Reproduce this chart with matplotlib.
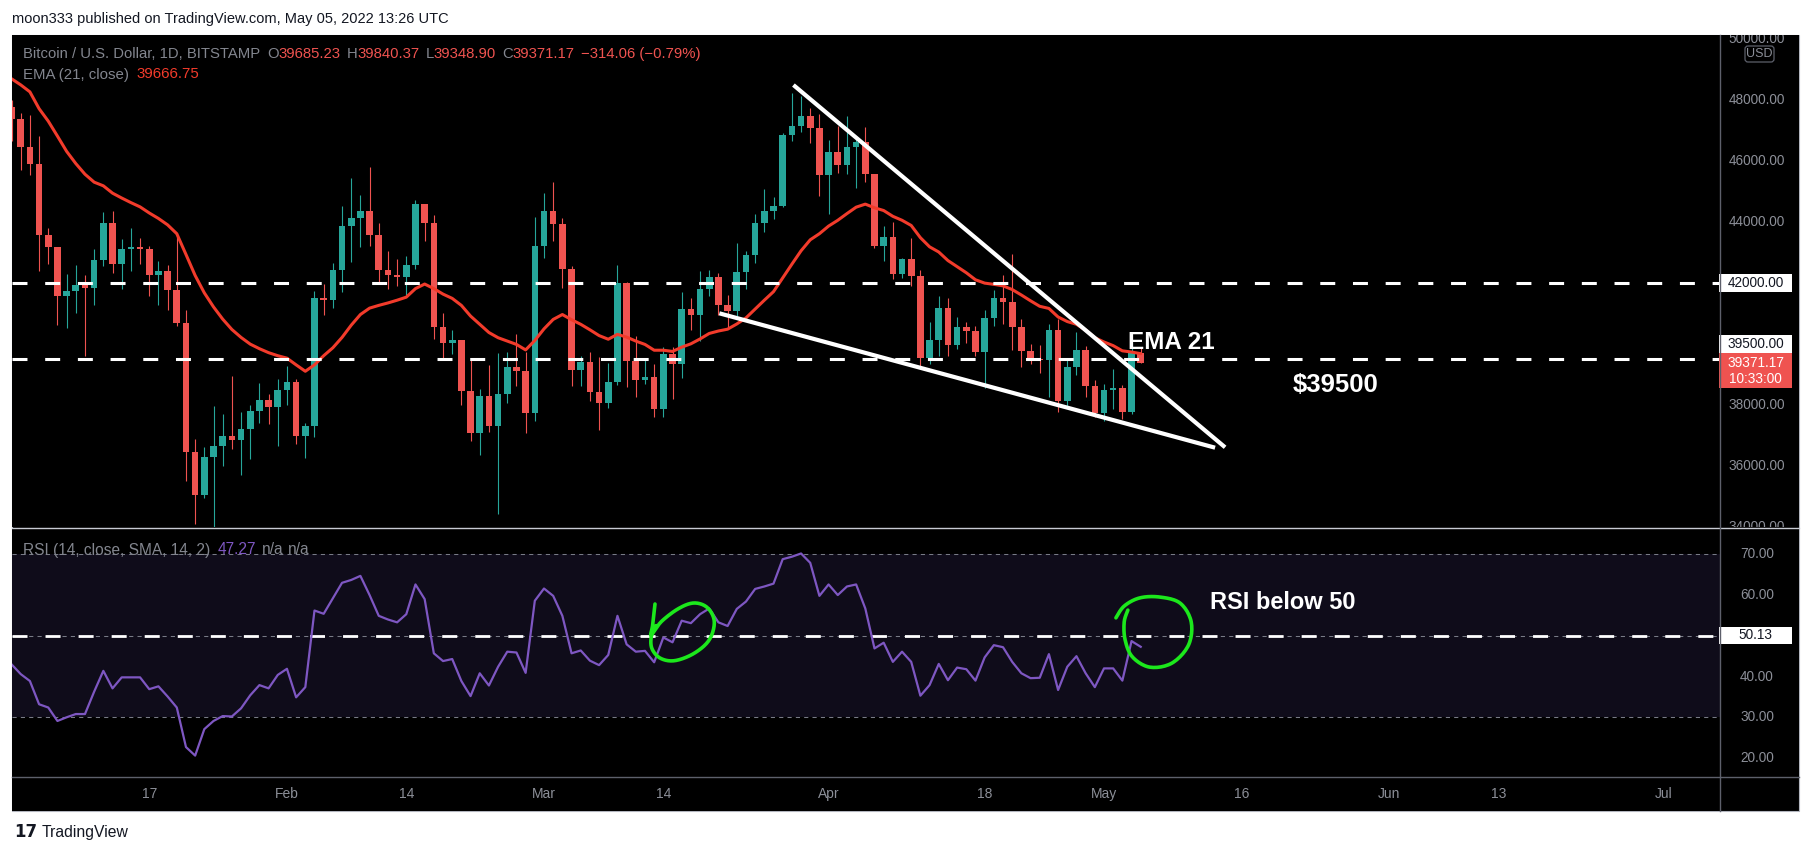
import matplotlib
matplotlib.use("Agg")
import matplotlib.pyplot as plt
import matplotlib.dates as mdates
from matplotlib.patches import Rectangle, FancyBboxPatch
from matplotlib.transforms import blended_transform_factory
import numpy as np
import pandas as pd

plt.rcParams['font.family'] = ['Liberation Sans', 'DejaVu Sans']

W, H = 1813, 856

# ---- data: BTC/USD daily, Bitstamp, 2022-01-02 .. 2022-05-05 ----
dates = pd.date_range('2022-01-02', '2022-05-05', freq='D')

opens = [47738, 47345, 46458, 45897, 43569, 43160, 41557, 41733, 41911, 41821,
         42735, 43949, 42591, 43099, 43177, 43113, 42250, 42375, 41744, 40680,
         36457, 35030, 36276, 36654, 36954, 36852, 37200, 37784, 38138, 37917,
         38483, 38743, 36952, 37300, 41500, 41441, 42406, 43840, 44118, 44338,
         43565, 42407, 42244, 42197, 42586, 44575, 43961, 40538, 40030, 40122,
         38431, 37075, 38286, 37296, 38332, 39214, 39105, 37709, 43193, 44354,
         43924, 42451, 39137, 39400, 38419, 38062, 38737, 41982, 39437, 38794,
         38904, 37849, 39666, 39338, 41143, 40951, 41801, 42190, 41247, 41077,
         42358, 42892, 43960, 44348, 44500, 46820, 47128, 47465, 47062, 45538,
         46281, 45868, 46453, 46622, 45555, 43206, 43503, 42287, 42782, 42207,
         39521, 40127, 41166, 39935, 40552, 40424, 39716, 40827, 41502, 41374,
         40527, 39740, 39478, 39469, 40458, 38120, 39241, 39773, 38609, 37714,
         38469, 38529, 37750, 39685.23]
highs = [47990, 47570, 47500, 46800, 43780, 43160, 42290, 42570, 42230, 43100,
         44300, 44350, 43440, 43790, 43470, 43190, 42690, 42580, 43550, 41100,
         36860, 36600, 37950, 37700, 38950, 37770, 38000, 38700, 38350, 38850,
         39250, 38850, 37400, 41720, 41950, 42650, 44520, 45440, 44860, 45800,
         43940, 43030, 42770, 42870, 44700, 44580, 44200, 40990, 40450, 40115,
         39500, 38500, 39280, 39700, 39710, 40300, 39730, 44150, 44930, 45300,
         44125, 42550, 39600, 39710, 39570, 39370, 42580, 42030, 40250, 39460,
         39320, 39900, 39880, 41680, 41480, 42380, 42410, 42320, 41590, 43300,
         43030, 44240, 45070, 44790, 46910, 48200, 48100, 47710, 47540, 46670,
         47120, 47460, 46770, 47110, 45560, 43850, 43970, 42790, 43450, 42410,
         40700, 41560, 41480, 40860, 40700, 40580, 41100, 41750, 42240, 42950,
         40800, 39970, 39950, 40650, 40790, 39510, 40370, 39930, 38800, 38670,
         39170, 38640, 40030, 39840.37]
lows = [46654, 45697, 45516, 42390, 42600, 40600, 40520, 41000, 39580, 41268,
        42528, 42311, 41800, 42370, 42600, 41550, 41250, 41100, 40580, 35480,
        34080, 34930, 32950, 35990, 36530, 35700, 36200, 37400, 37370, 36630,
        38000, 36700, 36250, 36950, 40950, 41150, 41700, 42680, 43180, 43200,
        42000, 41780, 41890, 41590, 42450, 43350, 40150, 39480, 39650, 38000,
        36800, 36350, 37100, 34400, 38060, 38600, 37055, 37450, 42800, 43350,
        41830, 38610, 38600, 38110, 37160, 37900, 38650, 38570, 38250, 38670,
        37600, 37600, 38170, 38880, 40440, 40090, 41560, 40930, 40500, 40900,
        41790, 42630, 43650, 44080, 44470, 46650, 46945, 46580, 44830, 44230,
        45600, 45560, 45100, 45290, 43120, 42710, 42110, 42140, 41900, 39250,
        39320, 39590, 39590, 39810, 40020, 39590, 38550, 40580, 40640, 39800,
        39220, 39320, 39020, 38240, 37770, 37930, 38960, 38240, 37600, 37470,
        37840, 37520, 37700, 39348.90]
closes = [47345, 46458, 45897, 43569, 43160, 41557, 41733, 41911, 41821, 42735,
          43949, 42591, 43099, 43177, 43113, 42250, 42375, 41744, 40680, 36457,
          35030, 36276, 36654, 36954, 36852, 37200, 37784, 38138, 37917, 38483,
          38743, 36952, 37300, 41500, 41441, 42406, 43840, 44118, 44338, 43565,
          42407, 42244, 42197, 42586, 44575, 43961, 40538, 40030, 40122, 38431,
          37075, 38286, 37296, 38332, 39214, 39105, 37709, 43193, 44354, 43924,
          42451, 39137, 39400, 38419, 38062, 38737, 41982, 39437, 38794, 38904,
          37849, 39666, 39338, 41143, 40951, 41801, 42190, 41247, 41077, 42358,
          42892, 43960, 44348, 44500, 46820, 47128, 47465, 47062, 45538, 46281,
          45868, 46453, 46622, 45555, 43206, 43503, 42287, 42782, 42207, 39521,
          40127, 41166, 39935, 40552, 40424, 39716, 40827, 41502, 41374, 40527,
          39740, 39478, 39469, 40458, 38120, 39241, 39773, 38609, 37714, 38469,
          38529, 37750, 39698, 39371.17]

ema21 = [48680, 48480, 48250, 47700, 47290, 46800, 46300, 45900, 45550, 45290,
         45170, 44930, 44770, 44620, 44480, 44280, 44100, 43890, 43600, 42920,
         42230, 41660, 41200, 40800, 40460, 40200, 39980, 39830, 39700, 39600,
         39520, 39300, 39090, 39300, 39600, 39860, 40200, 40600, 40950, 41160,
         41250, 41330, 41420, 41520, 41800, 41950, 41800, 41620, 41480, 41250,
         40900, 40630, 40360, 40190, 40080, 39970, 39790, 40100, 40480, 40790,
         40950, 40780, 40630, 40450, 40260, 40140, 40300, 40210, 40080, 39970,
         39780, 39780, 39740, 39880, 39990, 40150, 40330, 40410, 40470, 40640,
         40840, 41130, 41420, 41700, 42150, 42600, 43040, 43400, 43600, 43850,
         44040, 44260, 44470, 44570, 44450, 44360, 44170, 44040, 43870, 43470,
         43170, 43000, 42720, 42520, 42320, 42090, 41980, 41940, 41890, 41770,
         41590, 41400, 41220, 41150, 40870, 40720, 40630, 40440, 40190, 40050,
         39930, 39760, 39720, 39667]

rsi14 = [43.0, 40.6, 38.9, 33.2, 32.4, 29.1, 30.0, 30.8, 30.8, 36.3,
         41.4, 37.1, 39.8, 39.8, 39.8, 36.9, 37.6, 35.1, 32.4, 22.7,
         20.6, 27.1, 29.1, 30.3, 30.2, 32.2, 35.4, 37.9, 37.1, 40.4,
         41.9, 34.9, 37.4, 56.2, 55.4, 59.2, 63.0, 63.7, 64.7, 60.0,
         54.9, 54.0, 53.3, 55.3, 62.6, 59.0, 45.7, 43.8, 44.3, 38.9,
         35.2, 40.8, 37.8, 42.4, 46.1, 45.9, 40.9, 58.6, 61.6, 59.8,
         54.9, 45.7, 46.4, 43.9, 42.8, 45.3, 54.9, 47.9, 46.1, 46.3,
         43.5, 49.6, 48.4, 53.7, 53.1, 55.3, 56.7, 53.3, 52.4, 56.6,
         58.4, 61.5, 62.1, 62.8, 68.8, 69.4, 70.2, 67.9, 59.8, 62.6,
         60.0, 62.1, 62.6, 56.7, 46.9, 48.3, 43.6, 46.1, 43.6, 35.3,
         37.9, 43.1, 39.1, 42.2, 41.8, 39.0, 44.7, 47.7, 47.2, 43.6,
         40.8, 39.6, 39.7, 45.5, 36.7, 42.4, 45.0, 40.8, 37.4, 42.0,
         42.0, 39.0, 48.7, 47.3]

levels = [42000, 39500]
x_labels = [('2022-01-17', '17'), ('2022-02-01', 'Feb'), ('2022-02-14', '14'),
            ('2022-03-01', 'Mar'), ('2022-03-14', '14'), ('2022-04-01', 'Apr'),
            ('2022-04-18', '18'), ('2022-05-01', 'May'), ('2022-05-16', '16'),
            ('2022-06-01', 'Jun'), ('2022-06-13', '13'), ('2022-07-01', 'Jul')]
price_ticks = [50000, 48000, 46000, 44000, 38000, 36000, 34000]
rsi_ticks = [70, 60, 40, 30, 20]

# drawings (day offset from first date, value)
wedge_upper = [(85.17, 48475), (132.19, 36597)]
wedge_lower = [(77.10, 40990), (131.10, 36584)]
circle1 = [(70.09, 57.8), (69.84, 52.65), (69.67, 50.2), (70.79, 53.5), (72.67, 56.7),
           (74.35, 58.05), (75.8, 56.9), (76.55, 53.5), (76.0, 49.0), (74.35, 45.7),
           (72.25, 43.9), (70.67, 44.5), (69.75, 46.9), (69.7, 50.0), (70.2, 52.5)]
circle2 = [(120.3, 54.4), (121.2, 57.3), (122.9, 59.3), (125.1, 59.5), (127.3, 58.0),
           (128.5, 53.4), (128.2, 47.7), (126.4, 43.3), (124.0, 42.3), (122.1, 44.8),
           (121.3, 49.0), (121.2, 53.4), (121.6, 56.3)]

UP, DOWN = '#26a69a', '#ef5350'
EMA_C = '#f23b2b'
RSI_C = '#7e57c2'
GREY = '#83868f'
AXIS_TXT = '#8c8f98'
LINE_C = '#5d606b'
MARK_GREEN = '#1ce81c'


def px_axes(x0, y0, x1, y1, **kw):
    a = fig.add_axes([x0 / W, 1 - y1 / H, (x1 - x0) / W, (y1 - y0) / H], **kw)
    a.set_facecolor('black')
    for s in a.spines.values():
        s.set_visible(False)
    return a


def catmull(pts, n=10):
    pts = np.asarray(pts, float)
    P = np.vstack([pts[0], pts, pts[-1]])
    out = []
    for k in range(1, len(P) - 2):
        p0, p1, p2, p3 = P[k - 1], P[k], P[k + 1], P[k + 2]
        for t in np.linspace(0, 1, n, endpoint=False):
            out.append(0.5 * (2 * p1 + (-p0 + p2) * t + (2 * p0 - 5 * p1 + 4 * p2 - p3) * t * t
                              + (-p0 + 3 * p1 - 3 * p2 + p3) * t ** 3))
    out.append(P[-2])
    return np.array(out)


fig = plt.figure(figsize=(W / 100, H / 100), dpi=100, facecolor='white')
fig.patches.append(Rectangle((12 / W, 1 - 811 / H), (1799 - 12) / W, (811 - 35) / H,
                             transform=fig.transFigure, facecolor='black',
                             edgecolor='#b2b5be', lw=0.8, zorder=-5))

ax = px_axes(12, 35, 1720, 527)
ax_rsi = px_axes(12, 528, 1720, 777, sharex=ax)
ax_px = px_axes(1720, 35, 1799, 527, sharey=ax)
ax_rs = px_axes(1720, 528, 1799, 777, sharey=ax_rsi)
ax_t = px_axes(12, 777, 1720, 811, sharex=ax)

x = mdates.date2num(dates)
x0 = x[0]
ax.set_xlim(x0 + 0.05, x0 + 186.1)
ax.set_ylim(33984, 50115)
ax_rsi.set_ylim(15.35, 76.45)
for a in (ax, ax_rsi, ax_px, ax_rs, ax_t):
    a.tick_params(left=False, bottom=False, labelleft=False, labelbottom=False)

o = np.array(opens); h = np.array(highs); l = np.array(lows); c = np.array(closes)
cols = np.where(c >= o, UP, DOWN)
ax.vlines(x, l, h, colors=cols, lw=0.8, zorder=2)
ax.bar(x, np.maximum(np.abs(c - o), 35), bottom=np.minimum(o, c), width=0.72,
       color=cols, zorder=3, linewidth=0)
ax.plot(x, ema21, color=EMA_C, lw=2.2, zorder=4, solid_capstyle='round')

for lv in levels:
    ax.axhline(lv, color='white', lw=2.2, dashes=(4.9, 5.8), zorder=5)

for seg in (wedge_upper, wedge_lower):
    ax.plot([x0 + seg[0][0], x0 + seg[1][0]], [seg[0][1], seg[1][1]],
            color='white', lw=3.0, zorder=6, solid_capstyle='butt')

ax.text(x0 + 121.62, 39836, 'EMA 21', color='white', fontsize=17.5, fontweight='bold',
        va='baseline', ha='left', zorder=7)
ax.text(x0 + 139.6, 38410, '$39500', color='white', fontsize=18.5, fontweight='bold',
        va='baseline', ha='left', zorder=7)

# ---- RSI pane ----
ax_rsi.axhspan(30, 70, color='#0f0c1a', zorder=0, lw=0)
for lv in (70, 50, 30):
    ax_rsi.axhline(lv, color='#787b86', lw=0.75, ls=(0, (4, 4)), zorder=1)
ax_rsi.axhline(50, color='white', lw=2.0, dashes=(5.4, 6.5), zorder=2)
ax_rsi.plot(x, rsi14, color=RSI_C, lw=1.6, zorder=3)
for pts in (circle1, circle2):
    sm = catmull(pts, 12)
    ax_rsi.plot(x0 + sm[:, 0], sm[:, 1], color=MARK_GREEN, lw=2.6, zorder=4,
                solid_capstyle='round', solid_joinstyle='round')
ax_rsi.text(x0 + 130.55, 56.58, 'RSI below 50', color='white', fontsize=17,
            fontweight='bold', va='baseline', ha='left', zorder=5)

# ---- scales ----
tp = blended_transform_factory(ax_px.transAxes, ax_px.transData)
for p in price_ticks:
    ax_px.text(0.468, p, f'{p:.2f}', transform=tp, ha='center', va='center',
               color=AXIS_TXT, fontsize=9.8, clip_on=True)
tr = blended_transform_factory(ax_rs.transAxes, ax_rs.transData)
for r in rsi_ticks:
    ax_rs.text(0.468, r, f'{r:.2f}', transform=tr, ha='center', va='center',
               color=AXIS_TXT, fontsize=9.8)
tt = blended_transform_factory(ax_t.transData, ax_t.transAxes)
for d, lab in x_labels:
    ax_t.text(mdates.date2num(pd.Timestamp(d)), 0.5, lab, transform=tt, ha='center',
              va='center', color=AXIS_TXT, fontsize=10)

# ---- overlay in pixel coordinates ----
ov = fig.add_axes([0, 0, 1, 1], zorder=20)
ov.set_xlim(0, W); ov.set_ylim(H, 0)
ov.axis('off')
ov.patch.set_alpha(0)


def to_py(a, yv):
    return H - a.transData.transform((a.get_xlim()[0], yv))[1]


ov.plot([12, 1799], [527.5, 527.5], color='#c8cbd3', lw=1.0)
ov.plot([12, 1799], [777, 777], color=LINE_C, lw=1.0)
ov.plot([1720, 1720], [35, 811], color=LINE_C, lw=1.0)


def box_label(py, txt, fc, tc, h=18):
    ov.add_patch(Rectangle((1719, py - h / 2), 73, h, facecolor=fc, edgecolor='none'))
    ov.text(1755.5, py, txt, ha='center', va='center', color=tc, fontsize=9.8)


box_label(to_py(ax, 42000), '42000.00', 'white', '#131722')
box_label(to_py(ax, 39500) - 15, '39500.00', 'white', '#131722')
ov.add_patch(Rectangle((1719, 353), 73, 35, facecolor=DOWN, edgecolor='none'))
ov.text(1755.5, 363, f'{closes[-1]:.2f}', ha='center', va='center', color='white', fontsize=9.8)
ov.text(1755.5, 379, '10:33:00', ha='center', va='center', color='white', fontsize=9.8)
box_label(to_py(ax_rsi, 50.13), '50.13', 'white', '#131722', h=17)

ov.add_patch(FancyBboxPatch((1745, 46), 29, 16, boxstyle='round,pad=0,rounding_size=3',
                            facecolor='black', edgecolor=LINE_C, lw=0.9))
ov.text(1759.5, 54, 'USD', ha='center', va='center', color=AXIS_TXT, fontsize=9)

# header and legends
fig.text(12 / W, 1 - 18.5 / H, 'moon333 published on TradingView.com, May 05, 2022 13:26 UTC',
         color='#131722', fontsize=10.5, ha='left', va='center')

renderer = fig.canvas.get_renderer()


def chain(px0, py, parts, size=11):
    xp = px0
    for txt, col, gap in parts:
        t = fig.text(xp / W, 1 - py / H, txt, color=col, fontsize=size, ha='left',
                     va='center', zorder=30)
        bb = t.get_window_extent(renderer)
        xp = bb.x1 + gap


chain(23, 54, [('Bitcoin / U.S. Dollar, 1D, BITSTAMP', GREY, 7),
               ('O', GREY, 0), ('39685.23', DOWN, 6),
               ('H', GREY, 0), ('39840.37', DOWN, 6),
               ('L', GREY, 0), ('39348.90', DOWN, 6),
               ('C', GREY, 0), ('39371.17', DOWN, 6),
               ('\u2212314.06 (\u22120.79%)', DOWN, 0)], size=10.7)
chain(23, 74.5, [('EMA (21, close)', GREY, 7), ('39666.75', EMA_C, 0)], size=10.8)
chain(23, 550, [('RSI (14, close, SMA, 14, 2)', GREY, 7), ('47.27', RSI_C, 6),
                ('n/a', GREY, 5), ('n/a', GREY, 0)], size=11.2)

fig.text(14 / W, 1 - 832 / H, '17', color='#131722', fontsize=12, fontweight='heavy',
         family='DejaVu Sans', ha='left', va='center')
fig.text(42 / W, 1 - 832 / H, 'TradingView', color='#131722', fontsize=11.3,
         ha='left', va='center')

fig.savefig('out.png', dpi=100, facecolor='white')
